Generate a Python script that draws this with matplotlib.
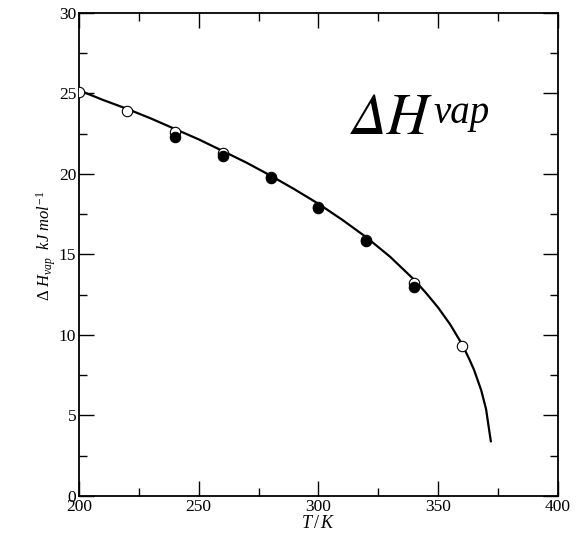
import matplotlib
matplotlib.use("Agg")
import matplotlib.pyplot as plt
from matplotlib.ticker import MultipleLocator

plt.rcParams['font.family'] = ['Liberation Serif', 'DejaVu Serif']
plt.rcParams['mathtext.fontset'] = 'custom'
plt.rcParams['mathtext.rm'] = 'Liberation Serif'
plt.rcParams['mathtext.it'] = 'Liberation Serif:italic'

# curve
curve_T = [200, 210, 220, 230, 240, 250, 260, 270, 280, 290, 300, 310, 320, 330,
           340, 345, 350, 355, 360, 363, 365, 368, 370, 372]
curve_H = [25.2, 24.6, 24.05, 23.45, 22.8, 22.15, 21.43, 20.7, 19.9, 19.05, 18.15,
           17.15, 16.07, 14.85, 13.43, 12.6, 11.7, 10.66, 9.42, 8.5, 7.83, 6.56,
           5.4, 3.4]

# open circles
open_T = [200, 220, 240, 260, 280, 300, 320, 340, 360]
open_H = [25.1, 23.9, 22.6, 21.3, 19.8, 17.95, 15.9, 13.2, 9.3]

# filled circles
fill_T = [240, 260, 280, 300, 320, 340]
fill_H = [22.3, 21.1, 19.75, 17.9, 15.85, 13.0]

fig = plt.figure(figsize=(5.86, 5.39), dpi=100)
ax = fig.add_axes([0.1348, 0.0798, 0.8172, 0.8961])

ax.plot(curve_T, curve_H, color='black', lw=1.6, zorder=2)
ax.plot(open_T, open_H, 'o', ms=7.5, mfc='white', mec='black', mew=0.8, zorder=3)
ax.plot(fill_T, fill_H, 'o', ms=7.5, mfc='black', mec='black', mew=0.8, zorder=4)

ax.set_xlim(200, 400)
ax.set_ylim(0, 30)
ax.xaxis.set_major_locator(MultipleLocator(50))
ax.xaxis.set_minor_locator(MultipleLocator(25))
ax.yaxis.set_major_locator(MultipleLocator(5))
ax.yaxis.set_minor_locator(MultipleLocator(2.5))
ax.tick_params(which='both', direction='in', top=True, right=True, labelsize=12.5, pad=2)
ax.tick_params(which='major', length=11, width=1)
ax.tick_params(which='minor', length=6, width=1)
for s in ax.spines.values():
    s.set_linewidth(1.3)

ax.set_xlabel(r'$T\,/\,K$', fontsize=13, labelpad=0)
ax.set_ylabel(r'$\Delta\ H_{vap}\ \ kJ\ mol^{-1}$', fontsize=12)
ax.yaxis.set_label_coords(-0.043, 0.518)
ax.text(0.570, 0.7495, 'ΔH', transform=ax.transAxes, fontsize=42, fontstyle='italic',
        family=['STIXGeneral', 'Liberation Serif'], ha='left', va='baseline')
ax.text(0.74, 0.772, 'vap', transform=ax.transAxes, fontsize=28, fontstyle='italic',
        ha='left', va='baseline')

fig.savefig('out.png', dpi=100)
